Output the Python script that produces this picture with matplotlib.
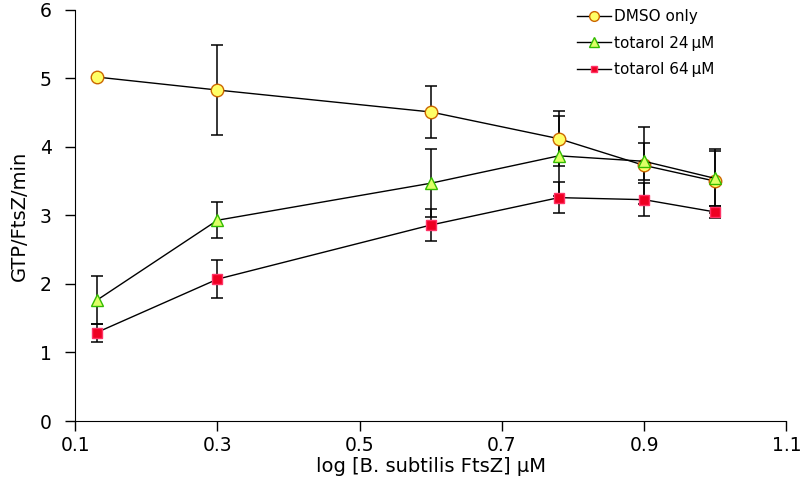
import numpy as np
from matplotlib import pyplot as plt
from matplotlib.lines import Line2D

# log concentration of FtsZ
x = [0.13, 0.30, 0.60, 0.78, 0.90, 1.00]

dmso = [5.02, 4.83, 4.51, 4.12, 3.73, 3.50]
dmso_err = [0.0, 0.66, 0.38, 0.40, 0.56, 0.47]

tot24 = [1.76, 2.93, 3.47, 3.87, 3.79, 3.54]
tot24_err = [0.35, 0.26, 0.50, 0.58, 0.27, 0.40]

tot64 = [1.29, 2.07, 2.86, 3.26, 3.23, 3.05]
tot64_err = [0.13, 0.28, 0.23, 0.23, 0.24, 0.09]

x_ticks = [0.1, 0.3, 0.5, 0.7, 0.9, 1.1]
y_ticks = [0, 1, 2, 3, 4, 5, 6]


def main():
    plt.rcParams['font.family'] = ['DejaVu Sans']
    fig = plt.figure(figsize=(8, 4.93), dpi=100)
    ax = fig.add_axes([0.094, 0.146, 0.889, 0.834])

    series = [
        (dmso, dmso_err, 'DMSO only', dict(marker='o', markersize=9, markerfacecolor='#FFFF66', markeredgecolor='#CC6600')),
        (tot24, tot24_err, 'totarol 24\u2009\u00b5M', dict(marker='^', markersize=9, markerfacecolor='#DDFF66', markeredgecolor='#33BB00')),
        (tot64, tot64_err, 'totarol 64\u2009\u00b5M', dict(marker='s', markersize=7, markerfacecolor='#EE0022', markeredgecolor='#FF3366')),
    ]
    handles = []
    for y, err, label, style in series:
        ax.errorbar(x, y, yerr=err, color='black', linewidth=1, elinewidth=1.1,
                    capsize=4, capthick=1.1, zorder=3, **style)
        # legend entries without error bars
        leg_style = dict(style, markersize=style['markersize'] - 2)
        handles.append(Line2D([], [], color='black', linewidth=1, label=label, **leg_style))

    ax.set_xlim(0.1, 1.1)
    ax.set_ylim(0, 6)
    ax.set_xticks(x_ticks)
    ax.set_xticklabels([f'{t:.1f}' for t in x_ticks])
    ax.set_yticks(y_ticks)
    ax.spines['top'].set_visible(False)
    ax.spines['right'].set_visible(False)
    ax.tick_params(direction='out', length=7, labelsize=13.5, width=1)
    ax.tick_params(axis='y', pad=10)
    ax.set_xlabel('log [B. subtilis FtsZ] \u00b5M', fontsize=14, labelpad=2)
    ax.set_ylabel('GTP/FtsZ/min', fontsize=14, labelpad=8)

    ax.legend(handles=handles, loc='upper right', bbox_to_anchor=(0.918, 1.035), frameon=False,
              fontsize=11, handlelength=2.2, handletextpad=0.2, labelspacing=0.75)
    plt.savefig('out.png', dpi=100)


if __name__ == '__main__':
    main()
